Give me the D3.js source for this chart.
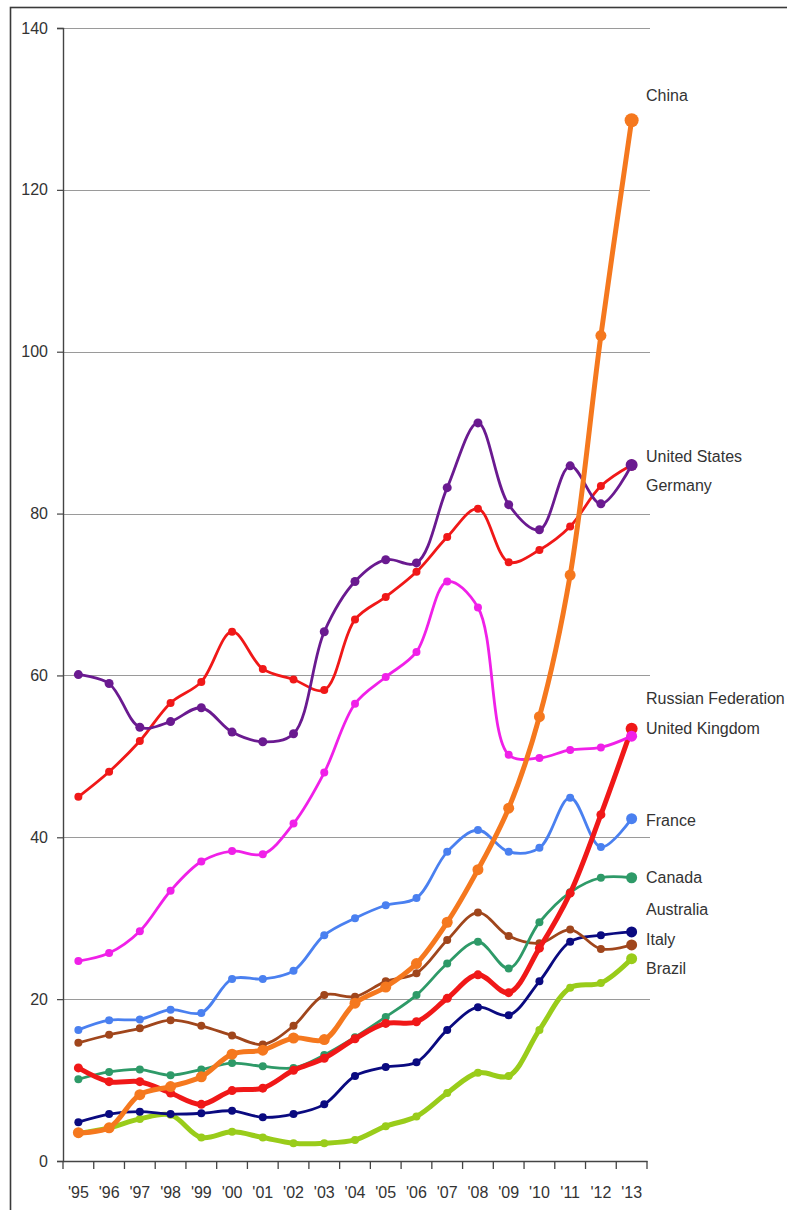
<!DOCTYPE html>
<html>
<head>
<meta charset="utf-8">
<script src="https://cdn.jsdelivr.net/npm/d3@7"></script>
<style>
  html, body { margin: 0; padding: 0; background: #fff; }
  svg { display: block; font-family: "Liberation Sans", Arial, sans-serif; }
</style>
</head>
<body>
<svg id="chart" width="787" height="1210"></svg>
<script>
// ---- data ----
const years = ["'95","'96","'97","'98","'99","'00","'01","'02","'03","'04","'05","'06","'07","'08","'09","'10","'11","'12","'13"];
const yTicks = [0, 20, 40, 60, 80, 100, 120, 140];

const china     = [3.5,4.1,8.2,9.2,10.4,13.2,13.7,15.2,15.0,19.5,21.5,24.4,29.5,36.0,43.6,54.9,72.4,102.0,128.6];
const unitedStates = [60.1,59.0,53.6,54.3,56.0,53.0,51.8,52.8,65.4,71.6,74.3,73.9,83.2,91.2,81.1,78.0,85.9,81.2,86.0];
const germany   = [45.0,48.1,51.9,56.6,59.2,65.4,60.8,59.5,58.2,66.9,69.7,72.8,77.1,80.6,74.0,75.5,78.4,83.4,86.0];
const russia    = [11.5,9.8,9.8,8.4,7.0,8.7,9.0,11.2,12.7,15.1,17.0,17.2,20.1,23.0,20.8,26.3,33.1,42.8,53.4];
const uk        = [24.7,25.7,28.4,33.4,37.0,38.3,37.9,41.7,48.0,56.5,59.8,62.9,71.6,68.4,50.2,49.8,50.8,51.1,52.5];
const france    = [16.2,17.4,17.5,18.7,18.3,22.5,22.5,23.5,27.9,30.0,31.6,32.5,38.2,40.9,38.2,38.7,44.9,38.8,42.3];
const canada    = [10.1,11.0,11.3,10.6,11.3,12.1,11.7,11.5,13.1,15.3,17.8,20.5,24.4,27.1,23.8,29.5,33.2,35.0,35.0];
const australia = [14.6,15.6,16.4,17.4,16.7,15.5,14.4,16.7,20.5,20.3,22.2,23.2,27.3,30.7,27.8,26.9,28.6,26.2,26.7];
const italy     = [4.8,5.8,6.1,5.8,5.9,6.2,5.4,5.8,7.0,10.5,11.6,12.2,16.2,19.0,18.0,22.2,27.1,27.9,28.3];
const brazil    = [3.4,4.1,5.2,5.7,2.9,3.6,2.9,2.2,2.2,2.6,4.3,5.5,8.4,10.9,10.5,16.2,21.4,22.0,25.0];

const labelNames  = ["China","United States","Germany","Russian Federation","United Kingdom","France","Canada","Australia","Italy","Brazil"];
const labelValues = [131.7, 87.1, 83.5, 57.1, 53.5, 42.1, 35.1, 31.1, 27.4, 23.8];

// ---- series styling (drawing order) ----
const series = [
  { name: "Brazil",          values: brazil,       color: "#99cc1a", width: 5,   r: 4 },
  { name: "Italy",           values: italy,        color: "#0a0a80", width: 2.8, r: 4 },
  { name: "Australia",       values: australia,    color: "#a0461c", width: 2.8, r: 4 },
  { name: "Canada",          values: canada,       color: "#2e9a68", width: 2.8, r: 4 },
  { name: "France",          values: france,       color: "#4a80f0", width: 2.8, r: 4 },
  { name: "Russian Federation", values: russia,    color: "#f01818", width: 5,   r: 4.5 },
  { name: "United Kingdom",  values: uk,           color: "#f020e8", width: 2.8, r: 4 },
  { name: "Germany",         values: germany,      color: "#f01818", width: 2.8, r: 4 },
  { name: "United States",   values: unitedStates, color: "#6a1a90", width: 2.8, r: 4.5 },
  { name: "China",           values: china,        color: "#f5781e", width: 5,   r: 5.5 }
];

(function () {
const svg = d3.select("#chart");
const pL = 63, pR = 647, pT = 28, pB = 1161;

const x = d3.scaleBand().domain(years).range([pL, pR]).paddingInner(0).paddingOuter(0);
const y = d3.scaleLinear().domain([0, 140]).range([pB, pT]);

// frame
svg.append("rect")
  .attr("x", 10.5).attr("y", 7.5).attr("width", 800).attr("height", 1220)
  .attr("fill", "none").attr("stroke", "#3a3a3a").attr("stroke-width", 1.6);

// gridlines
svg.append("g").selectAll("line").data(yTicks.filter(d => d > 0)).join("line")
  .attr("x1", pL).attr("x2", 650)
  .attr("y1", d => Math.round(y(d)) + 0.5).attr("y2", d => Math.round(y(d)) + 0.5)
  .attr("stroke", "#9a9a9a").attr("stroke-width", 1.2);

// y axis
const yAxis = svg.append("g").attr("transform", `translate(${pL},0)`)
  .call(d3.axisLeft(y).tickValues(yTicks).tickSize(6).tickPadding(9).tickFormat(d3.format("d")));
yAxis.select(".domain").attr("stroke", "#444").attr("stroke-width", 1.4);
yAxis.selectAll(".tick line").attr("stroke", "#444").attr("stroke-width", 1.2);
yAxis.selectAll(".tick text").attr("font-size", 16).attr("fill", "#333")
  .attr("font-family", "'Liberation Sans', Arial, sans-serif");

// x axis
const xAxis = svg.append("g").attr("transform", `translate(0,${pB})`)
  .call(d3.axisBottom(x).tickSize(0).tickPadding(26));
xAxis.select(".domain").attr("stroke", "#444").attr("stroke-width", 1.6);
xAxis.selectAll(".tick text").attr("font-size", 16).attr("fill", "#333")
  .attr("font-family", "'Liberation Sans', Arial, sans-serif");
const bounds = years.map(d => x(d)).concat([x(years[years.length - 1]) + x.bandwidth()]);
svg.append("g").selectAll("line").data(bounds).join("line")
  .attr("x1", d => d).attr("x2", d => d)
  .attr("y1", pB).attr("y2", pB + 8)
  .attr("stroke", "#444").attr("stroke-width", 1.3);

// lines
const cx = (d, i) => x(years[i]) + x.bandwidth() / 2;
const line = d3.line().x(cx).y(d => y(d)).curve(d3.curveCatmullRom.alpha(0.5));

const g = svg.append("g");
series.forEach(s => {
  const sg = g.append("g");
  sg.append("path").datum(s.values)
    .attr("d", line).attr("fill", "none")
    .attr("stroke", s.color).attr("stroke-width", s.width)
    .attr("stroke-linejoin", "round").attr("stroke-linecap", "round");
  sg.selectAll("circle").data(s.values).join("circle")
    .attr("cx", cx).attr("cy", d => y(d))
    .attr("r", (d, i) => i === s.values.length - 1 ? s.r + 1.5 : s.r)
    .attr("fill", s.color);
});

// right labels
svg.append("g").selectAll("text").data(labelNames).join("text")
  .attr("x", 646)
  .attr("y", (d, i) => y(labelValues[i]))
  .attr("dy", "0.35em")
  .attr("font-size", 16)
  .attr("fill", "#333")
  .text(d => d);
})();
</script>
</body>
</html>
